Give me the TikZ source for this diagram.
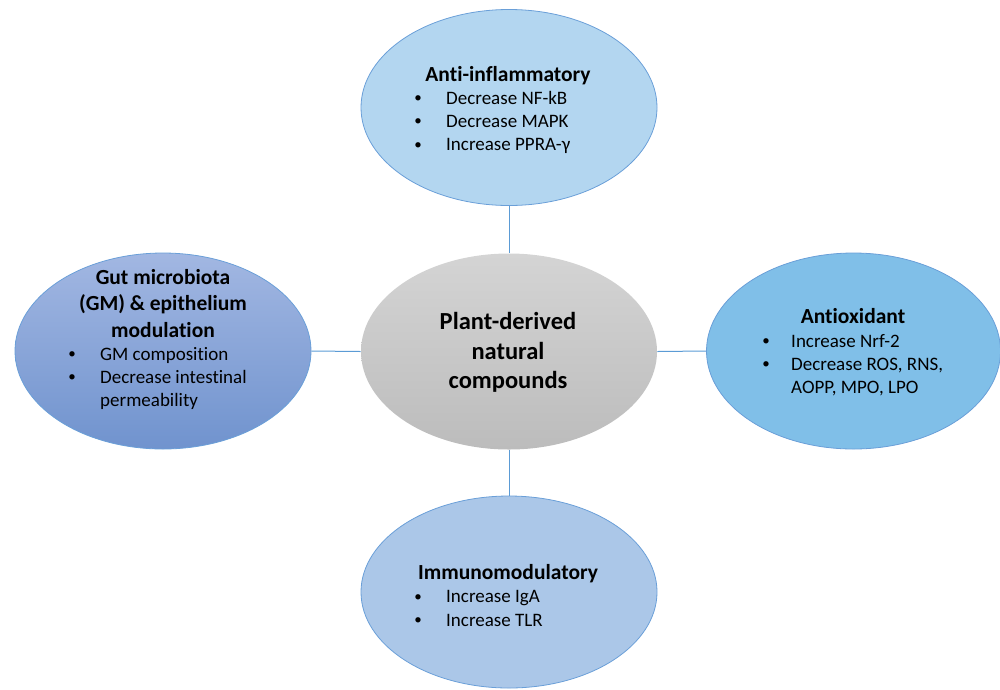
\documentclass[tikz,border=0pt]{standalone}
\usepackage{fontspec}
\setmainfont{Carlito}[RawFeature={-liga;-clig;-dlig;-calt}]
\usetikzlibrary{shapes.geometric}

% keep "t" and "i" as separate glyphs
\newcommand{\ti}{t\kern0pt i}

\definecolor{edgeblue}{HTML}{6A9FD8}
\definecolor{linkblue}{HTML}{5B9BD5}
\definecolor{antiinfl}{HTML}{B3D6F0}
\definecolor{gutTop}{HTML}{A2B7E2}
\definecolor{gutBot}{HTML}{7093CE}
\definecolor{coreTop}{HTML}{D4D4D4}
\definecolor{coreBot}{HTML}{BCBCBC}
\definecolor{antiox}{HTML}{80BFE8}
\definecolor{immuno}{HTML}{ABC7E8}

\begin{document}
\begin{tikzpicture}[x=1pt,y=-1pt,
  bubble/.style={ellipse, minimum width=296pt, minimum height=196pt,
                 inner sep=0pt, draw=edgeblue, line width=0.8pt},
  link/.style={draw=linkblue, line width=1pt},
  head/.style={font=\fontsize{21.5}{26}\selectfont\bfseries, anchor=base, inner sep=0pt},
  corehead/.style={font=\fontsize{24.5}{29.5}\selectfont\bfseries, anchor=base, inner sep=0pt},
  item/.style={font=\fontsize{19}{23}\selectfont, anchor=base west, inner sep=0pt},
  dot/.style={font=\fontsize{15}{18}\selectfont, anchor=base, inner sep=0pt}]

\useasboundingbox (0,0) rectangle (1000,689);

% ellipses
\node[bubble, fill=antiinfl] (anti) at (509,107.5) {};
\node[bubble, draw=none, top color=coreTop, bottom color=coreBot] (core) at (509,351.5) {};
\node[bubble, top color=gutTop, bottom color=gutBot] (gut) at (163,351) {};
\node[bubble, fill=antiox, minimum width=294pt] (ox) at (853.5,351) {};
\node[bubble, fill=immuno, minimum height=192pt] (imm) at (509,592) {};

% connectors
\draw[link] (anti.south) -- (core.north);
\draw[link] (core.south) -- (imm.north);
\draw[link] (gut.east) -- (core.west);
\draw[link] (core.east) -- (ox.west);

% centre
\node[corehead] (c1) at (508,329.3) {Plant-derived};
\node[corehead] (c2) at (508,359) {natural};
\node[corehead] (c3) at (508,388.5) {compounds};

% anti-inflammatory
\node[head] (a0) at (508,81) {An\ti-inflammatory};
\node[dot] (ab1) at (418,102.5) {\textbullet};
\node[item] (a1) at (446,104) {Decrease NF-kB};
\node[dot] (ab2) at (418,125.8) {\textbullet};
\node[item] (a2) at (446,127.3) {Decrease MAPK};
\node[dot] (ab3) at (418,149.1) {\textbullet};
\node[item] (a3) at (446,150.6) {Increase PPRA-γ};

% gut microbiota
\node[head] (g0) at (163,284) {Gut microbiota};
\node[head] (g0b) at (163,310.5) {(GM) \& epithelium};
\node[head] (g0c) at (163,337) {modula\ti on};
\node[dot] (gb1) at (72,358.5) {\textbullet};
\node[item] (g1) at (100,360) {GM composi\ti on};
\node[dot] (gb2) at (72,381.8) {\textbullet};
\node[item] (g2) at (100,383.3) {Decrease intes\ti nal};
\node[item] (g3) at (100,406.6) {permeability};

% antioxidant
\node[head] (o0) at (853,323.3) {An\ti oxidant};
\node[dot] (ob1) at (766,345.5) {\textbullet};
\node[item] (o1) at (791,347) {Increase Nrf-2};
\node[dot] (ob2) at (766,368.8) {\textbullet};
\node[item] (o2) at (791,370.3) {Decrease ROS, RNS,};
\node[item] (o3) at (791,393.6) {AOPP, MPO, LPO};

% immunomodulatory
\node[head] (i0) at (508,579.3) {Immunomodulatory};
\node[dot] (ib1) at (418,601.1) {\textbullet};
\node[item] (i1) at (446,602.6) {Increase IgA};
\node[dot] (ib2) at (418,624.5) {\textbullet};
\node[item] (i2) at (446,626) {Increase TLR};
\end{tikzpicture}
\end{document}
